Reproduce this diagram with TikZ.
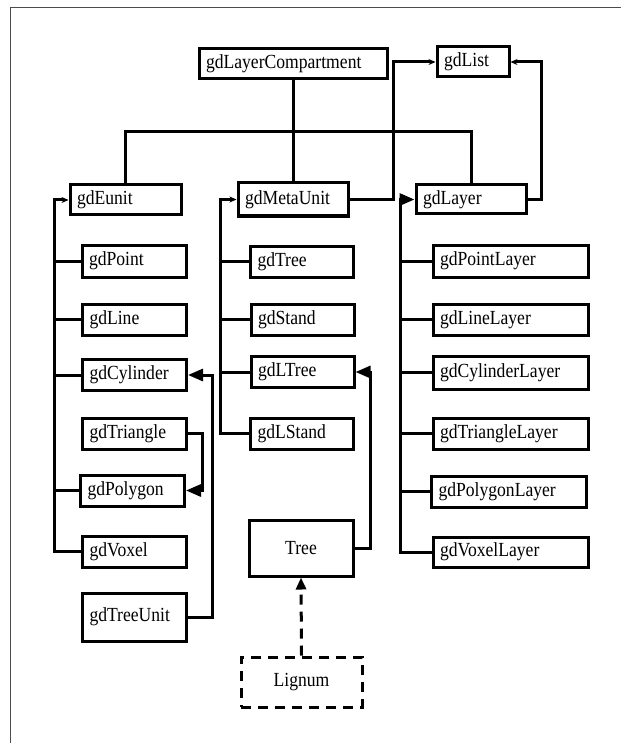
\documentclass[tikz,border=0pt]{standalone}
\usepackage{fontspec}
\setmainfont{Liberation Serif}[FakeStretch=0.88]
\usetikzlibrary{arrows.meta}
\begin{document}
\begin{tikzpicture}[x=1pt,y=-1pt,
  every node/.style={font=\fontsize{20}{22}\selectfont},
  cls/.style={draw, line width=3pt, inner xsep=7pt, inner ysep=0pt,
    align=left, minimum height=31pt},
  wL/.style={cls, minimum width=104pt, text width=90pt},
  wM/.style={cls, minimum width=103pt, text width=89pt},
  wR/.style={cls, minimum width=155pt, text width=141pt},
  link/.style={line width=3pt},
  thinarrow/.style={link, -{Stealth[length=7pt,width=6pt]}},
  bigarrow/.style={link, -{Triangle[length=15pt,width=12pt]}},
  dashlink/.style={link, dash pattern=on 10pt off 7pt, -{Triangle[length=12pt,width=10pt]}},
]
\useasboundingbox (0,0) rectangle (621,743);
% page frame
\draw[gray!60!black, line width=1pt] (621,8) -- (10,8) -- (10,743);

% top level
\node[cls, minimum width=188pt, text width=174pt, minimum height=30pt] (comp) at (293,64) {gdLayerCompartment};
\node[cls, minimum width=72pt, text width=58pt, minimum height=30pt] (list) at (473,62) {gdList};

% second level
\node[cls, minimum width=111pt, text width=97pt, minimum height=30pt] (eunit) at (125.5,200) {gdEunit};
\node[cls, minimum width=110pt, text width=96pt, minimum height=33pt] (meta) at (293,199.5) {gdMetaUnit};
\node[cls, minimum width=110pt, text width=96pt, minimum height=29pt] (layer) at (471,199.5) {gdLayer};

% unit classes
\node[wL, minimum height=32pt] (point) at (134,261) {gdPoint};
\node[wL] (line) at (134.5,319.5) {gdLine};
\node[wL] (cyl) at (134.5,375) {gdCylinder};
\node[wL] (tri) at (134.5,433.5) {gdTriangle};
\node[wL] (poly) at (132.5,490.5) {gdPolygon};
\node[wL] (voxel) at (134.5,551.5) {gdVoxel};
\node[wL, minimum height=48pt] (tunit) at (134.5,617) {gdTreeUnit};

% meta unit classes
\node[wM] (gtree) at (302,261.5) {gdTree};
\node[wM] (stand) at (302.5,319.5) {gdStand};
\node[wM] (ltree) at (302.5,372) {gdLTree};
\node[wM] (lstand) at (302,433.5) {gdLStand};
\node[cls, minimum width=104pt, minimum height=56pt, align=center] (tree) at (301,548) {Tree};
\node[cls, dash pattern=on 10pt off 7pt, minimum width=121pt, minimum height=50pt, align=center] (lignum) at (301.5,682) {Lignum};

% layer classes
\node[wR, minimum height=32pt] (pointL) at (510.5,261) {gdPointLayer};
\node[wR] (lineL) at (510.5,319.5) {gdLineLayer};
\node[wR, minimum height=33pt] (cylL) at (510.5,372.5) {gdCylinderLayer};
\node[wR] (triL) at (510.5,433.5) {gdTriangleLayer};
\node[wR] (polyL) at (509,491.5) {gdPolygonLayer};
\node[wR, minimum height=30pt] (voxL) at (510.5,552) {gdVoxelLayer};

% routing columns and rows
\coordinate (bar) at (0,132);
\coordinate (lspine) at (54,0);
\coordinate (mspine) at (220,0);
\coordinate (rspine) at (400,0);
\coordinate (tpx) at (202,0);
\coordinate (tux) at (212,0);
\coordinate (trx) at (370,0);
\coordinate (mlx) at (393,0);
\coordinate (lrx) at (541,0);

% compartment hierarchy
\draw[link] (comp.south) -- (meta.north);
\draw[link] (eunit.north) -- (eunit.north |- bar) -| (layer.north);

% list links
\draw[thinarrow] (meta.east) -- (meta.east -| mlx) |- (list.west);
\draw[thinarrow] (layer.east) -- (layer.east -| lrx) |- (list.east);

% unit column
\draw[thinarrow] (voxel.west) -- (voxel.west -| lspine) |- (eunit.west);
\foreach \n in {point,line,cyl,poly}
  \draw[link] (\n.west) -- (\n.west -| lspine);

% meta unit column
\draw[thinarrow] (lstand.west) -- (lstand.west -| mspine) |- (meta.west);
\foreach \n in {gtree,stand,ltree}
  \draw[link] (\n.west) -- (\n.west -| mspine);

% layer column
\draw[bigarrow] (voxL.west) -- (voxL.west -| rspine) |- (layer.west);
\foreach \n in {pointL,lineL,cylL,triL,polyL}
  \draw[link] (\n.west) -- (\n.west -| rspine);

% side links
\draw[bigarrow] (tri.east) -- (tri.east -| tpx) |- (poly.east);
\draw[bigarrow] (tunit.east) -- (tunit.east -| tux) |- (cyl.east);
\draw[bigarrow] (tree.east) -- (tree.east -| trx) |- (ltree.east);
\draw[dashlink] (lignum.north) -- (tree.south);
\end{tikzpicture}
\end{document}
